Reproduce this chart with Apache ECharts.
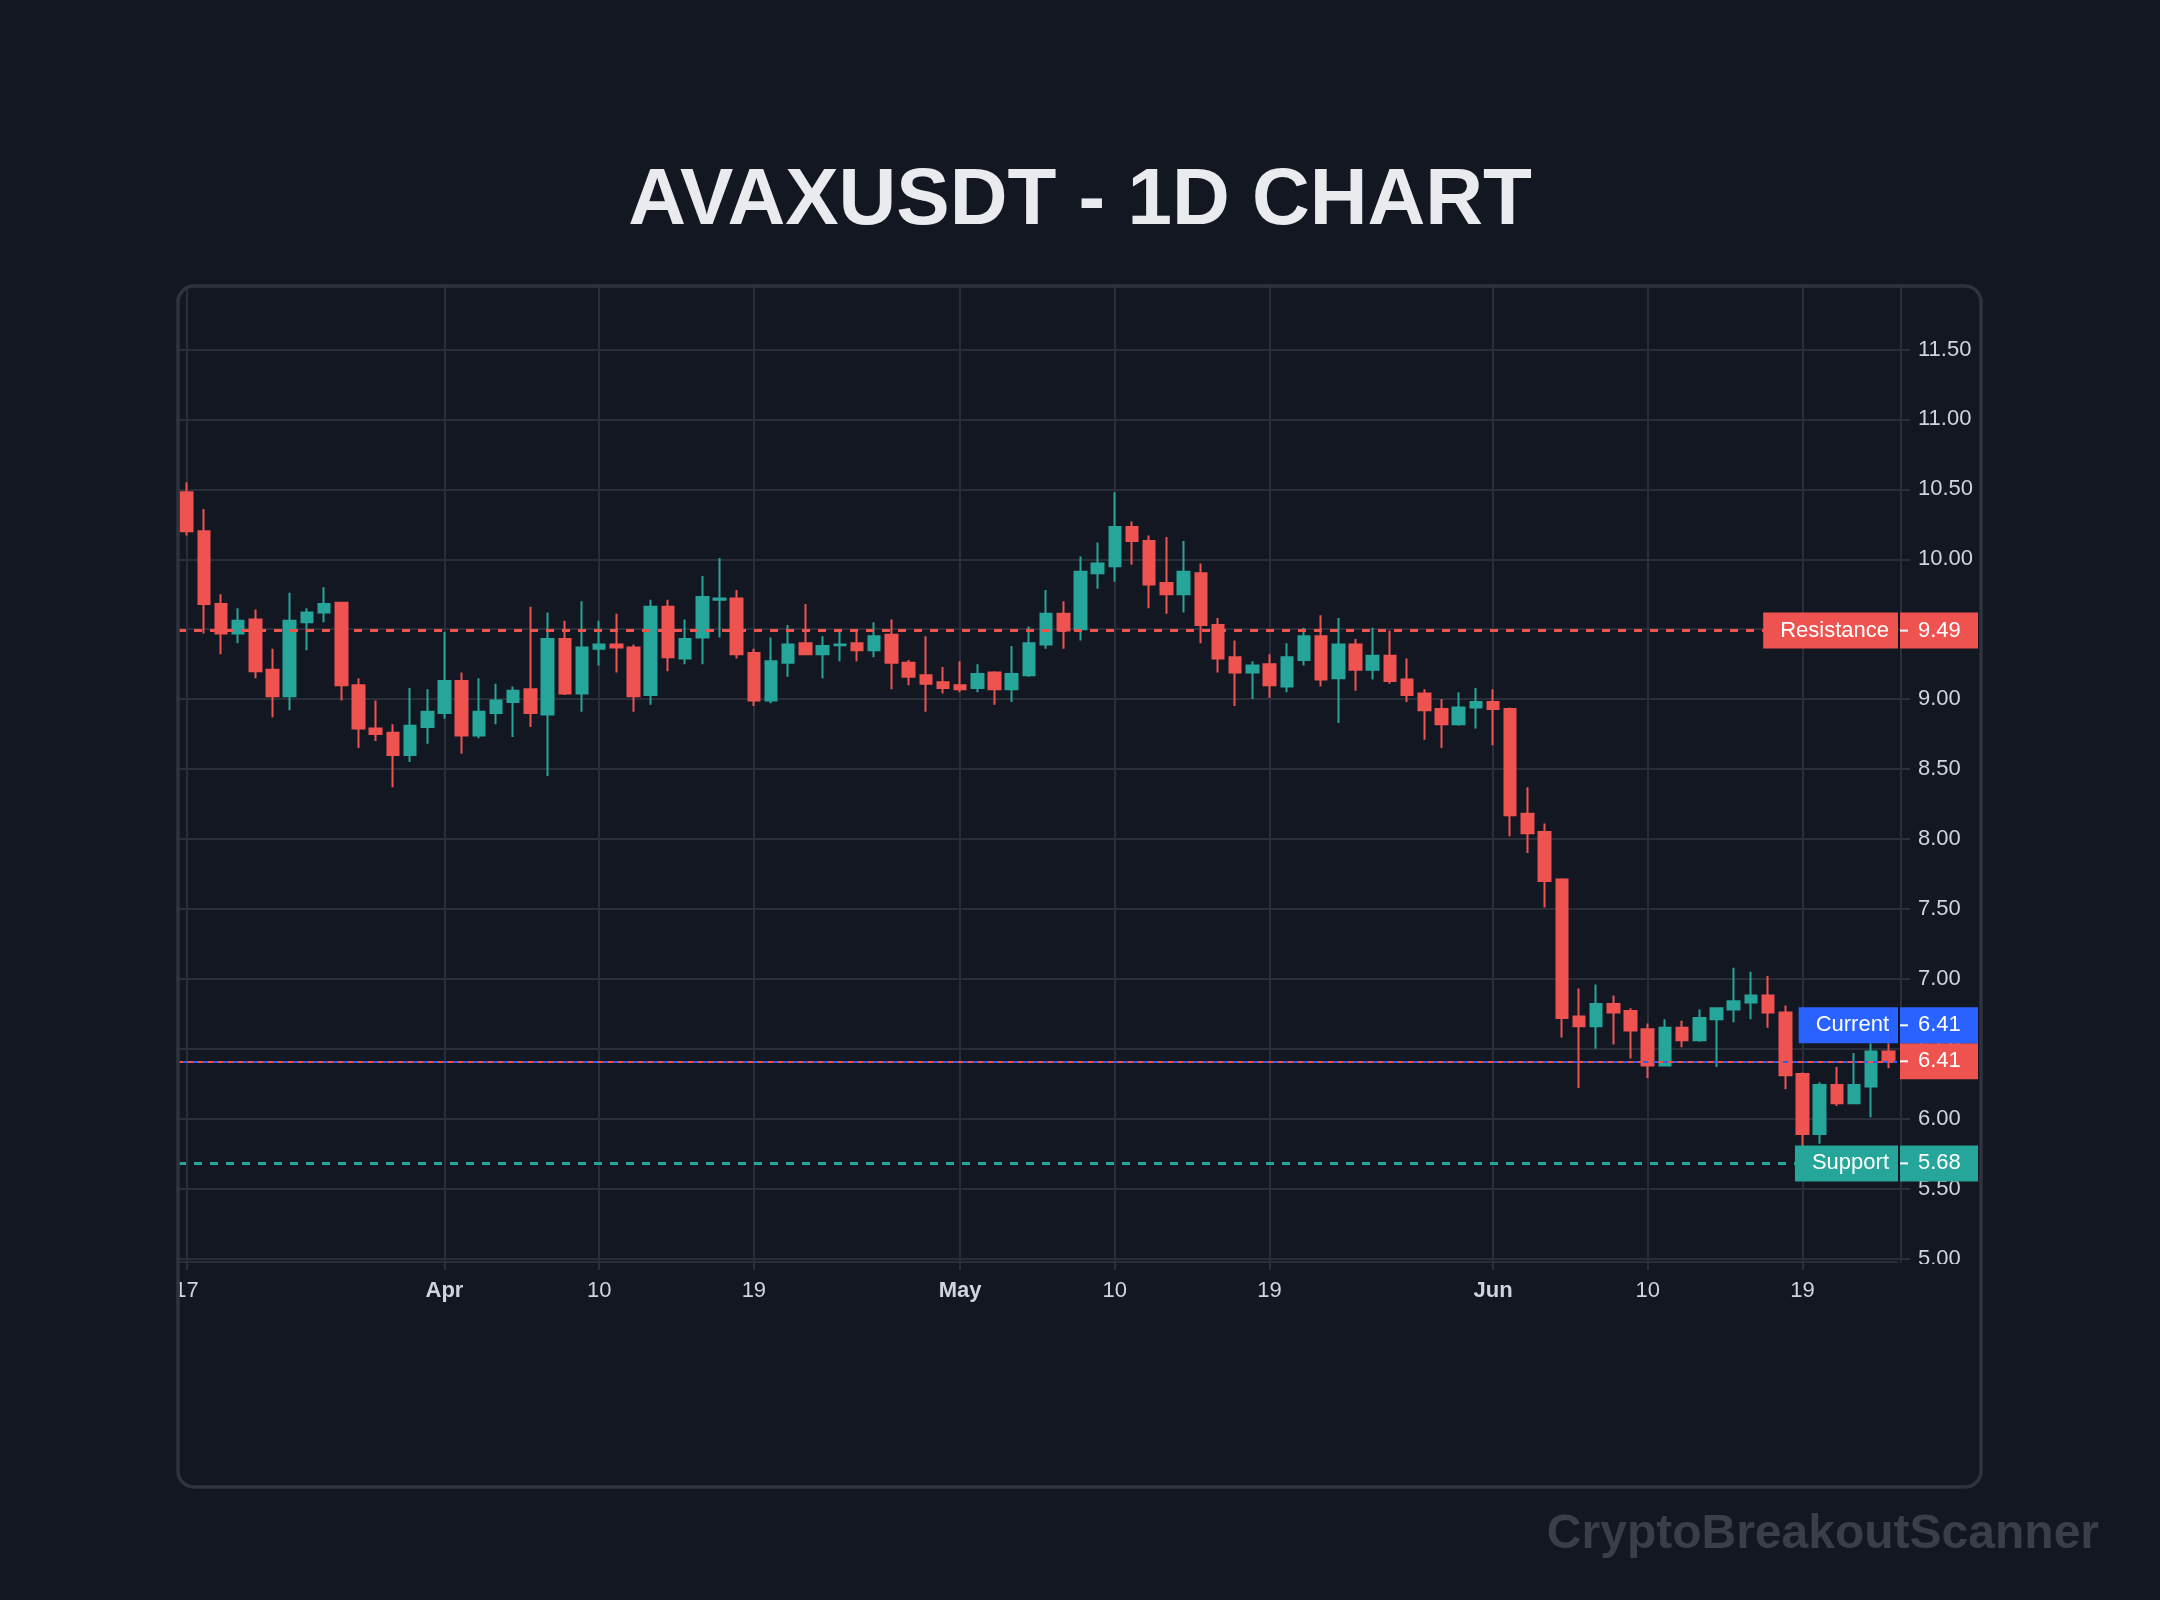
<!DOCTYPE html>
<html>
<head>
<meta charset="utf-8">
<script src="https://cdn.jsdelivr.net/npm/echarts@6/dist/echarts.min.js"></script>
<style>
html,body{margin:0;padding:0;background:#131722;}
#chart{width:2160px;height:1600px;}
</style>
</head>
<body>
<div id="chart"></div>
<script>
// ---------- data ----------
const dates = [
 'Mar 17','Mar 18','Mar 19','Mar 20','Mar 21','Mar 22','Mar 23','Mar 24','Mar 25','Mar 26','Mar 27','Mar 28','Mar 29','Mar 30','Mar 31',
 'Apr 1','Apr 2','Apr 3','Apr 4','Apr 5','Apr 6','Apr 7','Apr 8','Apr 9','Apr 10','Apr 11','Apr 12','Apr 13','Apr 14','Apr 15',
 'Apr 16','Apr 17','Apr 18','Apr 19','Apr 20','Apr 21','Apr 22','Apr 23','Apr 24','Apr 25','Apr 26','Apr 27','Apr 28','Apr 29','Apr 30',
 'May 1','May 2','May 3','May 4','May 5','May 6','May 7','May 8','May 9','May 10','May 11','May 12','May 13','May 14','May 15',
 'May 16','May 17','May 18','May 19','May 20','May 21','May 22','May 23','May 24','May 25','May 26','May 27','May 28','May 29','May 30','May 31',
 'Jun 1','Jun 2','Jun 3','Jun 4','Jun 5','Jun 6','Jun 7','Jun 8','Jun 9','Jun 10','Jun 11','Jun 12','Jun 13','Jun 14','Jun 15',
 'Jun 16','Jun 17','Jun 18','Jun 19','Jun 20','Jun 21','Jun 22','Jun 23','Jun 24'
];
const opens = [
 10.48,10.20,9.68,9.47,9.57,9.21,9.02,9.55,9.62,9.69,9.10,8.79,8.76,8.60,8.80,
 8.90,9.13,8.74,8.90,8.98,9.07,8.89,9.43,9.04,9.36,9.39,9.37,9.03,9.66,9.29,
 9.44,9.71,9.72,9.33,8.99,9.26,9.40,9.32,9.385,9.40,9.35,9.46,9.26,9.17,9.12,
 9.10,9.08,9.19,9.07,9.17,9.39,9.61,9.50,9.90,9.95,10.23,10.13,9.83,9.75,9.90,
 9.53,9.30,9.19,9.25,9.09,9.28,9.45,9.15,9.39,9.21,9.31,9.14,9.04,8.93,8.82,8.94,
 8.98,8.93,8.18,8.05,7.71,6.73,6.66,6.82,6.77,6.64,6.38,6.65,6.56,6.71,6.78,
 6.83,6.88,6.76,6.32,5.89,6.24,6.11,6.23,6.48
];
const highs = [
 10.55,10.36,9.75,9.65,9.64,9.36,9.76,9.65,9.80,9.69,9.15,8.99,8.82,9.08,9.07,
 9.48,9.19,9.15,9.11,9.09,9.66,9.62,9.56,9.70,9.56,9.61,9.39,9.71,9.71,9.57,
 9.88,10.01,9.78,9.36,9.44,9.53,9.68,9.45,9.48,9.48,9.55,9.57,9.28,9.45,9.23,
 9.27,9.25,9.20,9.38,9.52,9.78,9.70,10.02,10.12,10.48,10.27,10.17,10.16,10.13,9.97,
 9.58,9.42,9.27,9.32,9.40,9.51,9.60,9.58,9.43,9.51,9.49,9.29,9.07,9.00,9.05,9.08,
 9.07,8.94,8.37,8.11,7.72,6.93,6.96,6.88,6.79,6.68,6.71,6.70,6.78,6.79,7.08,
 7.05,7.02,6.81,6.33,6.26,6.37,6.47,6.54,6.54
];
const lows = [
 10.17,9.47,9.32,9.40,9.15,8.87,8.92,9.35,9.55,8.99,8.65,8.70,8.37,8.55,8.68,
 8.86,8.61,8.72,8.82,8.73,8.80,8.45,9.03,8.91,9.24,9.19,8.91,8.96,9.20,9.25,
 9.25,9.44,9.29,8.95,8.97,9.16,9.32,9.15,9.27,9.27,9.30,9.07,9.10,8.91,9.04,
 9.05,9.05,8.96,8.98,9.16,9.36,9.36,9.42,9.79,9.84,9.96,9.65,9.61,9.62,9.40,
 9.19,8.95,9.00,9.01,9.05,9.24,9.09,8.83,9.06,9.14,9.11,8.98,8.71,8.65,8.81,8.79,
 8.67,8.02,7.90,7.51,6.58,6.22,6.50,6.53,6.43,6.29,6.38,6.51,6.55,6.37,6.69,
 6.71,6.65,6.21,5.68,5.82,6.09,6.11,6.01,6.36
];
const closes = [
 10.20,9.68,9.47,9.56,9.20,9.02,9.56,9.62,9.68,9.10,8.79,8.75,8.60,8.81,8.91,
 9.13,8.74,8.91,8.99,9.06,8.90,9.43,9.04,9.37,9.39,9.37,9.02,9.66,9.30,9.43,
 9.73,9.72,9.32,8.99,9.27,9.39,9.32,9.38,9.39,9.35,9.45,9.26,9.16,9.11,9.08,
 9.07,9.18,9.07,9.18,9.40,9.61,9.49,9.91,9.97,10.23,10.13,9.82,9.75,9.91,9.53,
 9.29,9.19,9.24,9.10,9.30,9.45,9.14,9.39,9.21,9.31,9.13,9.03,8.92,8.82,8.94,8.98,
 8.93,8.17,8.04,7.70,6.72,6.66,6.82,6.76,6.63,6.38,6.65,6.56,6.72,6.79,6.84,
 6.88,6.76,6.31,5.89,6.24,6.11,6.24,6.48,6.41
];
const tickDates = ['Mar 17','Apr 1','Apr 10','Apr 19','May 1','May 10','May 19','Jun 1','Jun 10','Jun 19'];
const tickTexts = ['17','Apr','10','19','May','10','19','Jun','10','19'];
const monthTicks = ['Apr','May','Jun'];
const resistanceLevel = 9.49;
const supportLevel = 5.68;
const currentPrice = 6.41;
const titleText = 'AVAXUSDT - 1D CHART';
const watermarkText = 'CryptoBreakoutScanner';

// ---------- style ----------
const BG = '#131722', GRID = '#2a2e39', TXT = '#d1d4dc';
const RED = '#ef5350', TEAL = '#26a69a', BLUE = '#2962ff';
const FONT = "'Liberation Sans', Arial, sans-serif";
const GL = 178, GR = 1897, GT = 287, GB = 1262;   // plot area
const AX = 1901;                                   // price scale border

const candles = dates.map((d, i) => [opens[i], closes[i], lows[i], highs[i]]);
const isTick = (idx, val) => tickDates.indexOf(val) >= 0;

const chart = echarts.init(document.getElementById('chart'), null, {renderer: 'canvas'});
const option = {
  backgroundColor: BG,
  animation: false,
  textStyle: {fontFamily: FONT},
  grid: {left: GL, right: 2160 - GR, top: GT, bottom: 1600 - GB, containLabel: false},
  xAxis: {
    type: 'category', data: dates, boundaryGap: true,
    axisLine: {show: true, lineStyle: {color: GRID, width: 2}},
    axisTick: {show: true, alignWithLabel: true, interval: isTick, length: 8, lineStyle: {color: GRID, width: 2}},
    axisLabel: {
      interval: isTick, margin: 18, color: TXT, fontSize: 22, fontFamily: FONT,
      formatter: (val) => {
        const t = tickTexts[tickDates.indexOf(val)];
        return monthTicks.indexOf(t) >= 0 ? '{b|' + t + '}' : t;
      },
      rich: {b: {fontWeight: 'bold', fontSize: 22, color: TXT, fontFamily: FONT}}
    },
    splitLine: {show: true, alignWithLabel: true, interval: isTick, lineStyle: {color: GRID, width: 2}}
  },
  yAxis: {
    type: 'value', position: 'right', scale: true,
    min: 4.975, max: 11.947, splitNumber: 14, minInterval: 0.5, maxInterval: 0.5,
    axisLine: {show: false},
    axisTick: {show: true, length: 13, lineStyle: {color: GRID, width: 2}},
    axisLabel: {color: TXT, fontSize: 22, margin: 21, fontFamily: FONT,
      formatter: (v) => v.toFixed(2), showMinLabel: false, showMaxLabel: false},
    splitLine: {show: true, showMinLine: false, showMaxLine: false, lineStyle: {color: GRID, width: 2}}
  },
  series: [{
    type: 'candlestick',
    data: candles,
    barWidth: 12,
    itemStyle: {color: TEAL, color0: RED, borderColor: TEAL, borderColor0: RED, borderWidth: 2},
    markLine: {
      silent: true, symbol: ['none', 'none'], label: {show: false}, animation: false,
      data: [
        {yAxis: resistanceLevel, lineStyle: {color: RED, type: [8, 8], width: 3}},
        {yAxis: supportLevel, lineStyle: {color: TEAL, type: [8, 8], width: 3}},
        {yAxis: currentPrice, lineStyle: {color: RED, type: [5, 5], width: 2}},
        {yAxis: currentPrice, lineStyle: {color: BLUE, type: [5, 5], width: 2, dashOffset: 5}}
      ]
    }
  }]
};
chart.setOption(option);

// ---------- labels positioned through the y scale ----------
const yOf = (v) => chart.convertToPixel({yAxisIndex: 0}, v);
const BOX_H = 36;
function priceTag(yc, color, txt, name) {
  const els = [];
  if (name) {
    els.push({type: 'text', z: 100, style: {
      text: name, x: AX - 3, y: yc, align: 'right', verticalAlign: 'middle',
      fill: '#ffffff', font: '22px ' + FONT, lineHeight: 22,
      backgroundColor: color, padding: [7, 9, 7, 17]
    }});
  }
  els.push({type: 'rect', z: 100, shape: {x: AX - 1, y: yc - BOX_H / 2, width: 78, height: BOX_H}, style: {fill: color}});
  els.push({type: 'line', z: 101, shape: {x1: AX - 1, y1: yc, x2: AX + 7, y2: yc}, style: {stroke: '#ffffff', lineWidth: 2}});
  els.push({type: 'text', z: 101, style: {text: txt, x: AX + 17, y: yc, align: 'left', verticalAlign: 'middle', fill: '#ffffff', font: '22px ' + FONT}});
  return els;
}
const yRes = yOf(resistanceLevel), ySup = yOf(supportLevel), yCur = yOf(currentPrice);
const graphics = [
  {type: 'text', z: 100, style: {text: titleText, x: 1080, y: 202, align: 'center', verticalAlign: 'middle',
    fill: '#e9ebef', font: 'bold 80px ' + FONT}},
  // price-scale border line
  {type: 'line', z: 3, shape: {x1: AX, y1: GT, x2: AX, y2: GB + 1}, style: {stroke: GRID, lineWidth: 2}},
  // clip of the price scale / time scale at the pane edges
  {type: 'rect', z: 90, shape: {x: AX + 3, y: GB + 2, width: 76, height: 20}, style: {fill: BG}},
  {type: 'rect', z: 90, shape: {x: 120, y: 1268, width: 57, height: 50}, style: {fill: BG}},
  {type: 'rect', z: 95, shape: {x: 178, y: 286, width: 1803, height: 1201, r: 16},
    style: {fill: 'none', stroke: '#2f333e', lineWidth: 3.5}},
  {type: 'text', z: 100, style: {text: watermarkText, x: 2099, y: 1535, align: 'right', verticalAlign: 'middle',
    fill: '#3a3e49', font: 'bold 48px ' + FONT}}
]
  .concat(priceTag(yRes, RED, resistanceLevel.toFixed(2), 'Resistance'))
  .concat(priceTag(ySup, TEAL, supportLevel.toFixed(2), 'Support'))
  .concat(priceTag(yCur, RED, currentPrice.toFixed(2), null))
  .concat(priceTag(yCur - BOX_H, BLUE, currentPrice.toFixed(2), 'Current'));
chart.setOption({graphic: graphics});
</script>
</body>
</html>
